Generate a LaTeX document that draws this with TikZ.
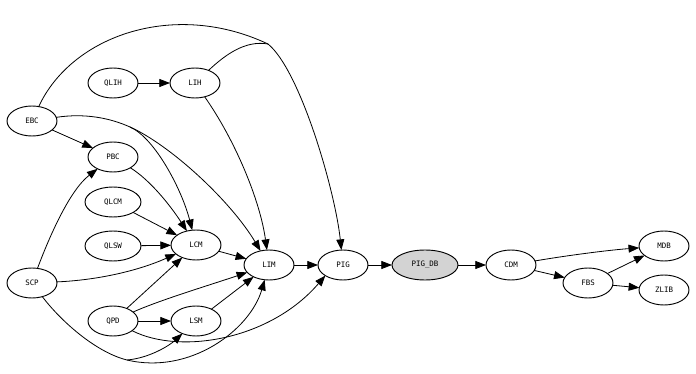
\documentclass[tikz,border=0pt]{standalone}
\usepackage{fontspec}
\setmonofont{DejaVu Sans Mono}
\usetikzlibrary{arrows.meta,shapes.geometric}
\definecolor{dbgray}{RGB}{211,211,211}
\tikzset{
  pkg/.style={ellipse, draw, line width=0.7pt, inner sep=0pt, outer sep=0pt,
    minimum width=37.5pt, minimum height=22.5pt,
    font=\ttfamily\fontsize{5.6}{6}\selectfont},
  widepkg/.style={pkg, minimum width=42pt},
  dbpkg/.style={pkg, fill=dbgray, minimum width=49.5pt},
  dep/.style={line width=0.6pt, -{Triangle[length=8pt,width=6pt]}},
  joint/.style={line width=0.6pt},
}

\begin{document}
\begin{tikzpicture}[x=0.75pt,y=-0.75pt]
  \useasboundingbox (0,0) rectangle (696,374);
  % packages
  \node[pkg] (EBC) at (32,121) {EBC};
  \node[pkg] (QLIH) at (113,83) {QLIH};
  \node[pkg] (LIH) at (195,83) {LIH};
  \node[pkg] (PBC) at (113,157) {PBC};
  \node[widepkg] (QLCM) at (113,202) {QLCM};
  \node[widepkg] (QLSW) at (113,246) {QLSW};
  \node[pkg] (LCM) at (196,245) {LCM};
  \node[pkg] (SCP) at (32,283) {SCP};
  \node[pkg] (QPD) at (113,321) {QPD};
  \node[pkg] (LSM) at (196,321) {LSM};
  \node[pkg] (LIM) at (269,265) {LIM};
  \node[pkg] (PIG) at (343,265) {PIG};
  \node[dbpkg] (PIGDB) at (425,265) {PIG\_DB};
  \node[pkg] (CDM) at (511,265) {CDM};
  \node[pkg] (FBS) at (588,283) {FBS};
  \node[pkg] (MDB) at (664,246) {MDB};
  \node[pkg] (ZLIB) at (664,290) {ZLIB};
  % merge points of concentrated edges
  \coordinate (ebcj) at (130,127);
  \coordinate (topj) at (268,44);
  \coordinate (scpj) at (127,360);
  % dependencies
  \draw[dep] (QLIH) -- (LIH);
  \draw[dep] (EBC) -- (PBC);
  \draw[joint] (EBC) .. controls (85,113) and (110,118) .. (ebcj);
  \draw[dep] (ebcj) .. controls (155,138) and (182,190) .. (LCM);
  \draw[dep] (ebcj) .. controls (170,145) and (230,200) .. (LIM);
  \draw[joint] (EBC) .. controls (72,35) and (175,0) .. (topj);
  \draw[joint] (LIH) .. controls (225,55) and (245,40) .. (topj);
  \draw[dep] (topj) .. controls (300,70) and (335,190) .. (PIG);
  \draw[dep] (LIH) .. controls (235,140) and (260,200) .. (LIM);
  \draw[dep] (PBC) .. controls (150,180) and (170,205) .. (LCM);
  \draw[dep] (QLCM) -- (LCM);
  \draw[dep] (QLSW) -- (LCM);
  \draw[dep] (SCP) .. controls (50,235) and (70,190) .. (PBC);
  \draw[dep] (SCP) .. controls (100,280) and (140,270) .. (LCM);
  \draw[joint] (SCP) .. controls (60,320) and (95,352) .. (scpj);
  \draw[dep] (scpj) .. controls (150,358) and (170,345) .. (LSM);
  \draw[dep] (scpj) .. controls (190,375) and (250,330) .. (LIM);
  \draw[dep] (QPD) -- (LCM);
  \draw[dep] (QPD) .. controls (160,300) and (210,285) .. (LIM);
  \draw[dep] (QPD) -- (LSM);
  \draw[dep] (QPD) .. controls (180,355) and (270,340) .. (PIG.south west);
  \draw[dep] (LSM) -- (LIM);
  \draw[dep] (LCM) -- (LIM);
  \draw[dep] (LIM) -- (PIG);
  \draw[dep] (PIG) -- (PIGDB);
  \draw[dep] (PIGDB) -- (CDM);
  \draw[dep] (CDM) .. controls (570,255) and (610,250) .. (MDB);
  \draw[dep] (CDM) -- (FBS);
  \draw[dep] (FBS) -- (MDB);
  \draw[dep] (FBS) -- (ZLIB);
\end{tikzpicture}
\end{document}
